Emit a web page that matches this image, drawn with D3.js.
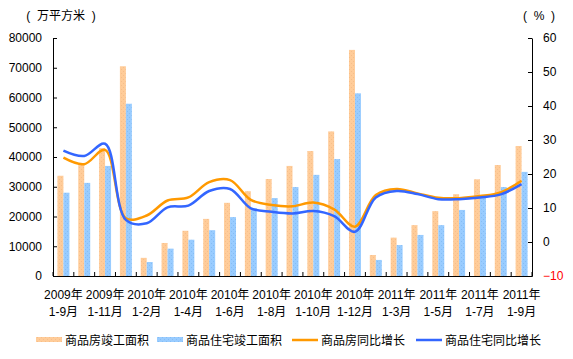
<!DOCTYPE html>
<html>
<head>
<meta charset="utf-8">
<script src="https://cdn.jsdelivr.net/npm/d3@7"></script>
<style>
  body { margin: 0; background: #fff; }
  svg text { font-family: "Liberation Sans", Arial, "Noto Sans CJK SC", sans-serif; font-size: 12px; fill: #000; }
</style>
</head>
<body>
<div id="chart"></div>
<script>
// categories (months, cumulative)
const periods = [
  '2009年1-9月', '2009年1-10月', '2009年1-11月', '2009年1-12月',
  '2010年1-2月', '2010年1-3月', '2010年1-4月', '2010年1-5月', '2010年1-6月', '2010年1-7月',
  '2010年1-8月', '2010年1-9月', '2010年1-10月', '2010年1-11月', '2010年1-12月',
  '2011年1-2月', '2011年1-3月', '2011年1-4月', '2011年1-5月', '2011年1-6月',
  '2011年1-7月', '2011年1-8月', '2011年1-9月'
];

// 万平方米
const houseArea = [33700, 37800, 43000, 70500, 6100, 11100, 15200, 19200, 24600, 28500, 32600, 37000,
  42000, 48600, 76000, 7050, 12900, 17100, 21800, 27500, 32500, 37300, 43700];
const residArea = [28000, 31300, 37000, 57900, 4700, 9200, 12200, 15400, 19800, 22800, 26200, 29900,
  34000, 39300, 61400, 5400, 10400, 13800, 17100, 22200, 26500, 29900, 35000];

// %
const houseGrowth = [24.8, 22.9, 27.1, 7.0, 7.8, 12.2, 13.1, 17.6, 18.2, 12.4, 10.9, 10.5,
  11.6, 9.6, 4.5, 13.8, 15.6, 14.3, 13.0, 12.9, 13.5, 14.6, 18.0];
const residGrowth = [26.9, 25.3, 28.9, 6.5, 5.5, 10.2, 10.7, 15.0, 15.6, 9.9, 8.9, 8.4,
  9.1, 7.6, 3.0, 13.1, 15.0, 14.1, 12.6, 12.6, 13.1, 14.0, 17.0];

const leftTicks = d3.range(0, 80001, 10000);
const rightTicks = d3.range(-10, 61, 10);

const seriesNames = ['商品房竣工面积', '商品住宅竣工面积', '商品房同比增长', '商品住宅同比增长'];
const barColors = ['#FFCC99', '#99CCFF'];
const dotColors = ['#F7BE8A', '#85BDF5'];
const lineColors = ['#FF9900', '#3366FF'];

const width = 573, height = 359;
const margin = {top: 38, right: 41, bottom: 83, left: 53};

const svg = d3.select('#chart').append('svg')
  .attr('width', width)
  .attr('height', height);

// dotted fills for the bars
const defs = svg.append('defs');
barColors.forEach((c, i) => {
  const p = defs.append('pattern')
    .attr('id', 'dots' + i)
    .attr('width', 4).attr('height', 4)
    .attr('patternUnits', 'userSpaceOnUse');
  p.append('rect').attr('width', 4).attr('height', 4).attr('fill', c);
  p.append('rect').attr('x', 1).attr('y', 1).attr('width', 1).attr('height', 1).attr('fill', dotColors[i]);
  p.append('rect').attr('x', 3).attr('y', 3).attr('width', 1).attr('height', 1).attr('fill', dotColors[i]);
});

//////// scales ////////
const x = d3.scaleBand()
  .domain(periods)
  .range([margin.left, width - margin.right]);

const xBar = d3.scaleBand()
  .domain([0, 1])
  .range([0, x.bandwidth()])
  .paddingOuter(0.74);

const yL = d3.scaleLinear()
  .domain([0, 80000])
  .range([height - margin.bottom, margin.top]);

const yR = d3.scaleLinear()
  .domain([-10, 60])
  .range([height - margin.bottom, margin.top]);

//////// bars ////////
const barData = [houseArea, residArea];
barData.forEach((vals, s) => {
  svg.append('g').selectAll('rect')
    .data(vals)
    .join('rect')
    .attr('x', (d, i) => x(periods[i]) + xBar(s))
    .attr('y', d => yL(d))
    .attr('width', xBar.bandwidth())
    .attr('height', d => yL(0) - yL(d))
    .attr('fill', 'url(#dots' + s + ')');
});

//////// lines ////////
const line = d3.line()
  .x((d, i) => x(periods[i]) + x.bandwidth() / 2)
  .y(d => yR(d))
  .curve(d3.curveCatmullRom.alpha(0.5));

[houseGrowth, residGrowth].forEach((vals, s) => {
  svg.append('path')
    .datum(vals)
    .attr('d', line)
    .attr('fill', 'none')
    .attr('stroke', lineColors[s])
    .attr('stroke-width', 2.5);
});

//////// axes ////////
const axisL = svg.append('g')
  .attr('transform', `translate(${margin.left},0)`)
  .call(d3.axisLeft(yL).tickValues(leftTicks).tickSizeInner(-4).tickSizeOuter(0).tickPadding(11).tickFormat(d3.format('d')));

const axisR = svg.append('g')
  .attr('transform', `translate(${width - margin.right},0)`)
  .call(d3.axisRight(yR).tickValues(rightTicks).tickSizeInner(-4).tickSizeOuter(0).tickPadding(11).tickFormat(d3.format('d')));
axisR.selectAll('text').filter(d => d < 0).style('fill', '#FF0000');

const axisB = svg.append('g')
  .attr('transform', `translate(0,${height - margin.bottom})`)
  .call(d3.axisBottom(x).tickSize(0).tickPadding(0).tickFormat(''));

// tick marks between categories, pointing up
axisB.selectAll('line.sep')
  .data(d3.range(periods.length + 1))
  .join('line')
  .attr('class', 'sep')
  .attr('x1', i => x.range()[0] + i * x.step())
  .attr('x2', i => x.range()[0] + i * x.step())
  .attr('y1', 0).attr('y2', -4)
  .attr('stroke', '#000');

// two-line labels on every other category
const labels = axisB.selectAll('text.lbl')
  .data(periods.filter((d, i) => i % 2 === 0))
  .join('text')
  .attr('class', 'lbl')
  .attr('text-anchor', 'middle')
  .attr('transform', d => `translate(${x(d) + x.bandwidth() / 2},0)`);
labels.append('tspan').attr('x', 0).attr('y', 23).text(d => d.split('年')[0] + '年');
labels.append('tspan').attr('x', 0).attr('y', 40).text(d => d.split('年')[1]);

svg.selectAll('.domain').attr('stroke', '#000');
svg.selectAll('.tick line').attr('stroke', '#000');

//////// unit labels ////////
svg.append('text').attr('x', 61).attr('y', 20).attr('text-anchor', 'middle').attr('xml:space', 'preserve').style('white-space', 'pre').text('(  万平方米  )');
svg.append('text').attr('x', 539).attr('y', 20).attr('text-anchor', 'middle').style('white-space', 'pre').text('(  %  )');

//////// legend ////////
const legendX = [36, 157, 292, 416];
const legend = svg.append('g').selectAll('g')
  .data(seriesNames)
  .join('g')
  .attr('transform', (d, i) => `translate(${legendX[i]},340)`);

legend.filter((d, i) => i < 2).append('rect')
  .attr('x', 0).attr('y', -3).attr('width', 26).attr('height', 5)
  .attr('fill', (d, i) => 'url(#dots' + i + ')');
legend.filter((d, i) => i >= 2).append('line')
  .attr('x1', 0).attr('x2', 26).attr('y1', 0).attr('y2', 0)
  .attr('stroke', (d, i) => lineColors[i]).attr('stroke-width', 2.5);
legend.append('text')
  .attr('x', 29).attr('y', 4.5)
  .text(d => d);
</script>
</body>
</html>
